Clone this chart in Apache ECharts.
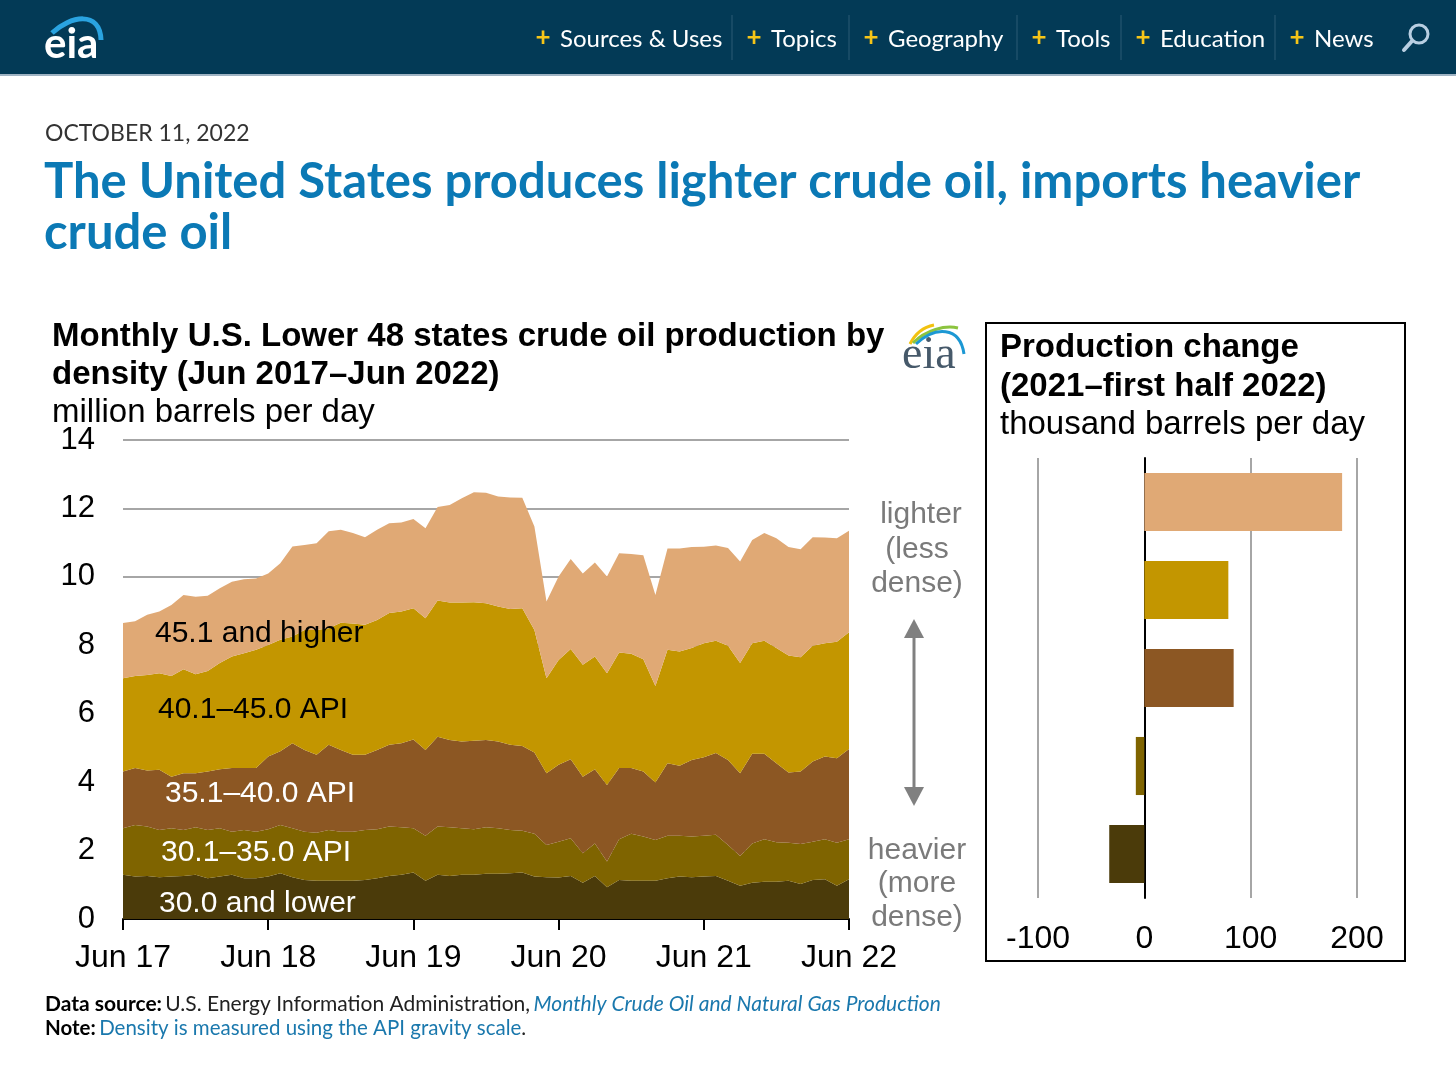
<!DOCTYPE html>
<html lang="en">
<head>
<meta charset="UTF-8" />
<title>EIA crude oil density</title>
<script src="https://cdn.jsdelivr.net/npm/echarts@6/dist/echarts.min.js"></script>
<style type="text/css">
html,body{margin:0;padding:0;background:#fff;}
#main{width:1456px;height:1067px;}
</style>
</head>
<body>
<div id="main"></div>
<script type="text/javascript">
// monthly production by API gravity, million b/d, Jun 2017 - Jun 2022
var lower30 = [1.29,1.24,1.26,1.22,1.24,1.26,1.29,1.19,1.24,1.29,1.19,1.19,1.24,1.34,1.22,1.14,1.12,1.12,1.12,1.12,1.14,1.19,1.26,1.29,1.36,1.12,1.29,1.26,1.29,1.29,1.32,1.32,1.34,1.36,1.24,1.22,1.21,1.26,1.06,1.26,0.93,1.14,1.12,1.12,1.12,1.19,1.24,1.22,1.24,1.26,1.12,0.97,1.06,1.09,1.09,1.12,1.02,1.14,1.16,0.97,1.16];
var api30_35 = [1.36,1.51,1.44,1.38,1.41,1.34,1.39,1.41,1.41,1.26,1.41,1.36,1.38,1.41,1.43,1.41,1.40,1.48,1.43,1.43,1.46,1.43,1.44,1.39,1.29,1.31,1.41,1.42,1.36,1.33,1.36,1.33,1.26,1.22,1.25,0.94,1.05,1.10,0.86,0.95,0.75,1.19,1.37,1.29,1.19,1.24,1.19,1.19,1.19,1.20,1.04,0.87,1.15,1.24,1.15,1.11,1.17,1.12,1.17,1.26,1.17];
var api35_40 = [1.66,1.66,1.64,1.76,1.51,1.66,1.58,1.71,1.73,1.86,1.81,1.86,2.13,2.15,2.49,2.39,2.28,2.49,2.39,2.25,2.20,2.32,2.39,2.46,2.60,2.51,2.63,2.55,2.54,2.59,2.55,2.54,2.49,2.48,2.38,2.10,2.25,2.31,2.24,2.17,2.24,2.08,1.92,1.90,1.68,2.12,2.05,2.24,2.30,2.39,2.49,2.42,2.62,2.50,2.31,2.05,2.12,2.34,2.42,2.47,2.64];
var api40_45 = [2.73,2.69,2.79,2.82,2.94,3.04,2.89,2.94,3.10,3.26,3.36,3.46,3.26,3.26,3.12,3.51,3.65,3.41,3.72,3.84,3.80,3.80,3.85,3.85,3.83,3.85,3.98,4.02,4.06,4.05,4.00,3.94,3.97,4.02,3.58,2.78,3.06,3.22,3.27,3.29,3.26,3.38,3.34,3.28,2.82,3.32,3.34,3.27,3.33,3.28,3.34,3.22,3.23,3.30,3.37,3.42,3.34,3.39,3.31,3.40,3.41];
var above45 = [1.61,1.60,1.76,1.81,2.08,2.17,2.27,2.20,2.19,2.19,2.16,2.08,2.09,2.24,2.63,2.48,2.53,2.83,2.72,2.64,2.56,2.64,2.63,2.60,2.61,2.63,2.73,2.85,3.05,3.21,3.23,3.22,3.26,3.23,3.02,2.24,2.44,2.63,2.67,2.75,2.83,2.90,2.92,3.04,2.66,2.96,3.01,2.95,2.82,2.79,2.85,2.97,3.02,3.15,3.21,3.17,3.16,3.17,3.09,3.03,2.97];

// production change 2021 - first half 2022, thousand b/d (top to bottom)
var changeCats = ['45.1 and higher','40.1–45.0 API','35.1–40.0 API','30.1–35.0 API','30.0 and lower'];
var changeVals = [186, 79, 84, -8, -33];

var colors = ['#4b3b0a','#7f6400','#8c5723','#c39600','#e0a975'];
var barColors = ['#e0a975','#c39600','#8c5723','#7f6400','#4b3b0a'];

var monNames = ['Jan','Feb','Mar','Apr','May','Jun','Jul','Aug','Sep','Oct','Nov','Dec'];
var months = [];
for (var i = 0; i < lower30.length; i++) {
	var m = (5 + i) % 12;
	var yy = 17 + Math.floor((5 + i) / 12);
	months.push(monNames[m] + ' ' + yy);
}

var SANS = '"Liberation Sans", Arial, sans-serif';
var PAGE = 'Lato, "Open Sans", sans-serif';

function txt(s, x, y, font, fill, align) {
	return {
		type: 'text', silent: true, z: 100,
		style: { text: s, x: x, y: y, font: font, fill: fill,
			align: align || 'left', textAlign: align || 'left',
			verticalAlign: 'middle', textVerticalAlign: 'middle' }
	};
}

function area(name, data, color) {
	return {
		name: name, type: 'line', stack: 'total', data: data,
		symbol: 'none', smooth: false,
		lineStyle: { width: 0 },
		areaStyle: { color: color, opacity: 1 },
		itemStyle: { color: color },
		silent: true
	};
}

// page furniture: header bar, nav, headline, notes
var navItems = [
	{ t: 'Sources & Uses', x: 560 }, { t: 'Topics', x: 771 }, { t: 'Geography', x: 888 },
	{ t: 'Tools', x: 1056 }, { t: 'Education', x: 1160 }, { t: 'News', x: 1314 }
];
var graphics = [
	{ type: 'rect', z: 100, shape: { x: 0, y: 0, width: 1456, height: 74 }, style: { fill: '#033a56' } },
	{ type: 'rect', z: 100, shape: { x: 0, y: 74, width: 1456, height: 2 }, style: { fill: '#9fb3c3' } },
	txt('eia', 44, 44, 'bold 42px ' + PAGE, '#ffffff'),
	{ type: 'bezierCurve', z: 100, shape: { x1: 52, y1: 33, cpx1: 70, cpy1: 16, cpx2: 100, cpy2: 10, x2: 101, y2: 40 },
		style: { stroke: '#2aa3e0', lineWidth: 5, fill: null } }
];
navItems.forEach(function (n, k) {
	graphics.push(txt('+', n.x - 17, 38, 'bold 26px ' + PAGE, '#f5c518', 'center'));
	graphics.push(txt(n.t, n.x, 39, '24px ' + PAGE, '#ffffff'));
});
[732, 849, 1017, 1121, 1275].forEach(function (sx) {
	graphics.push({ type: 'line', z: 100, shape: { x1: sx, y1: 15, x2: sx, y2: 60 }, style: { stroke: '#2c5b75', lineWidth: 1 } });
});
graphics.push({ type: 'circle', z: 100, shape: { cx: 1419, cy: 34, r: 9 }, style: { stroke: '#b9cfe2', lineWidth: 3, fill: null } });
graphics.push({ type: 'line', z: 100, shape: { x1: 1412, y1: 41, x2: 1404, y2: 50 }, style: { stroke: '#b9cfe2', lineWidth: 4, lineCap: 'round' } });

graphics.push(txt('OCTOBER 11, 2022', 45, 134, '23px ' + PAGE, '#333333'));
graphics.push(txt('The United States produces lighter crude oil, imports heavier', 44, 182, 'bold 49px ' + PAGE, '#0b79b5'));
graphics.push(txt('crude oil', 44, 233, 'bold 49px ' + PAGE, '#0b79b5'));

// chart heading
graphics.push(txt('Monthly U.S. Lower 48 states crude oil production by', 52, 337, 'bold 33px ' + SANS, '#000'));
graphics.push(txt('density (Jun 2017–Jun 2022)', 52, 375, 'bold 33px ' + SANS, '#000'));
graphics.push(txt('million barrels per day', 52, 413, '33px ' + SANS, '#000'));

// small eia logo
graphics.push(txt('eia', 902, 356, '46px "Liberation Serif", serif', '#46596a'));
graphics.push({ type: 'bezierCurve', z: 100, shape: { x1: 910, y1: 344, cpx1: 916, cpy1: 332, cpx2: 924, cpy2: 327, x2: 934, y2: 325 }, style: { stroke: '#f2c20f', lineWidth: 3, fill: null } });
graphics.push({ type: 'bezierCurve', z: 100, shape: { x1: 913, y1: 343, cpx1: 926, cpy1: 330, cpx2: 945, cpy2: 325, x2: 958, y2: 328 }, style: { stroke: '#8cc43f', lineWidth: 3, fill: null } });
graphics.push({ type: 'bezierCurve', z: 100, shape: { x1: 916, y1: 344, cpx1: 935, cpy1: 326, cpx2: 960, cpy2: 326, x2: 964, y2: 354 }, style: { stroke: '#1c98d4', lineWidth: 3, fill: null } });

// layer labels
graphics.push(txt('45.1 and higher', 155, 634, '30px ' + SANS, '#000'));
graphics.push(txt('40.1–45.0 API', 158, 710, '30px ' + SANS, '#000'));
graphics.push(txt('35.1–40.0 API', 165, 794, '30px ' + SANS, '#fff'));
graphics.push(txt('30.1–35.0 API', 161, 853, '30px ' + SANS, '#fff'));
graphics.push(txt('30.0 and lower', 159, 904, '30px ' + SANS, '#fff'));

// lighter / heavier annotation
graphics.push(txt('lighter', 921, 515, '30px ' + SANS, '#7a7a7a', 'center'));
graphics.push(txt('(less', 917, 550, '30px ' + SANS, '#7a7a7a', 'center'));
graphics.push(txt('dense)', 917, 584, '30px ' + SANS, '#7a7a7a', 'center'));
graphics.push(txt('heavier', 917, 851, '30px ' + SANS, '#7a7a7a', 'center'));
graphics.push(txt('(more', 917, 884, '30px ' + SANS, '#7a7a7a', 'center'));
graphics.push(txt('dense)', 917, 918, '30px ' + SANS, '#7a7a7a', 'center'));
graphics.push({ type: 'line', z: 100, shape: { x1: 914, y1: 632, x2: 914, y2: 793 }, style: { stroke: '#808080', lineWidth: 3 } });
graphics.push({ type: 'polygon', z: 100, shape: { points: [[904, 638], [924, 638], [914, 619]] }, style: { fill: '#808080' } });
graphics.push({ type: 'polygon', z: 100, shape: { points: [[904, 787], [924, 787], [914, 806]] }, style: { fill: '#808080' } });

// right panel
graphics.push({ type: 'rect', z: 100, shape: { x: 986, y: 323, width: 419, height: 638 }, style: { stroke: '#000', lineWidth: 2, fill: null } });
graphics.push(txt('Production change', 1000, 348, 'bold 33px ' + SANS, '#000'));
graphics.push(txt('(2021–first half 2022)', 1000, 387, 'bold 33px ' + SANS, '#000'));
graphics.push(txt('thousand barrels per day', 1000, 425, '33px ' + SANS, '#000'));

// notes
graphics.push({
	type: 'text', silent: true, z: 100,
	style: {
		x: 45, y: 1004, verticalAlign: 'middle', textVerticalAlign: 'middle',
		text: '{b|Data source:} {n|U.S. Energy Information Administration,} {l|Monthly Crude Oil and Natural Gas Production}',
		rich: {
			b: { font: 'bold 21px ' + PAGE, fill: '#000' },
			n: { font: '21px ' + PAGE, fill: '#222' },
			l: { font: 'italic 21px ' + PAGE, fill: '#1a78ad' }
		}
	}
});
graphics.push({
	type: 'text', silent: true, z: 100,
	style: {
		x: 45, y: 1028, verticalAlign: 'middle', textVerticalAlign: 'middle',
		text: '{b|Note:} {l|Density is measured using the API gravity scale}{n|.}',
		rich: {
			b: { font: 'bold 20.5px ' + PAGE, fill: '#000' },
			n: { font: '20.5px ' + PAGE, fill: '#222' },
			l: { font: '20.5px ' + PAGE, fill: '#1a78ad' }
		}
	}
});

var myChart = echarts.init(document.getElementById('main'));
myChart.setOption({
	animation: false,
	textStyle: { fontFamily: SANS },
	grid: [
		{ left: 123, top: 440, width: 726, height: 479 },
		{ left: 1038, top: 458, width: 319, height: 440 }
	],
	xAxis: [
		{
			type: 'category', gridIndex: 0, data: months, boundaryGap: false,
			axisLine: { lineStyle: { color: '#000', width: 2 } },
			axisTick: { interval: 11, length: 11, lineStyle: { color: '#000', width: 2 } },
			axisLabel: { interval: 11, fontSize: 32, color: '#000', margin: 23, fontFamily: SANS },
			splitLine: { show: false }
		},
		{
			type: 'value', gridIndex: 1, min: -100, max: 200, interval: 100,
			axisLine: { show: false }, axisTick: { show: false },
			axisLabel: { fontSize: 32, color: '#000', margin: 25, fontFamily: SANS },
			splitLine: { lineStyle: { color: '#a6a6a6', width: 2 } }
		}
	],
	yAxis: [
		{
			type: 'value', gridIndex: 0, min: 0, max: 14, interval: 2,
			axisLine: { show: false }, axisTick: { show: false },
			axisLabel: { fontSize: 31, color: '#000', margin: 28, fontFamily: SANS },
			splitLine: { lineStyle: { color: '#a6a6a6', width: 2 } }
		},
		{
			type: 'category', gridIndex: 1, data: changeCats, inverse: true,
			axisLine: { onZero: true, lineStyle: { color: '#000', width: 2 } },
			axisTick: { show: false }, axisLabel: { show: false },
			splitLine: { show: false }
		}
	],
	series: [
		area('30.0 and lower', lower30, colors[0]),
		area('30.1–35.0 API', api30_35, colors[1]),
		area('35.1–40.0 API', api35_40, colors[2]),
		area('40.1–45.0 API', api40_45, colors[3]),
		area('45.1 and higher', above45, colors[4]),
		{
			name: 'change', type: 'bar', xAxisIndex: 1, yAxisIndex: 1,
			barCategoryGap: '34%', silent: true,
			data: changeVals.map(function (v, k) {
				return { value: v, itemStyle: { color: barColors[k] } };
			})
		}
	],
	graphic: graphics
});
</script>
</body>
</html>
